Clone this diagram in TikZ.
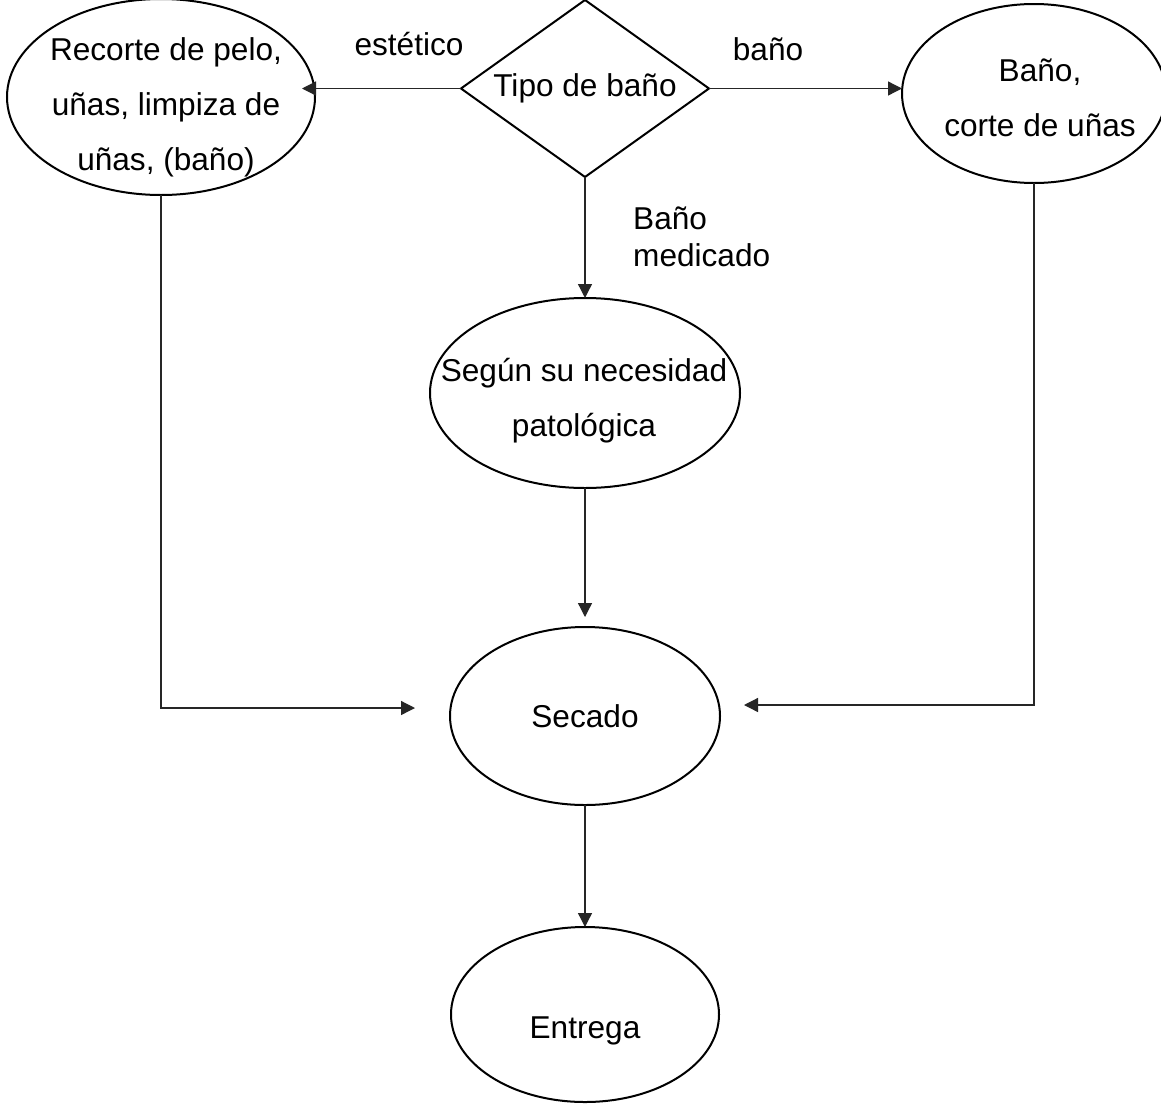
\documentclass[tikz,border=0pt]{standalone}
\usepackage{fontspec}
\setmainfont{Liberation Sans}
\usetikzlibrary{shapes.geometric,arrows.meta,calc}
\begin{document}
\begin{tikzpicture}[x=1pt,y=-1pt,
  ell/.style={ellipse,draw,line width=2pt,inner sep=0pt,outer sep=0pt},
  dia/.style={diamond,draw,line width=2pt,inner sep=0pt,outer sep=0pt,shape aspect=1.4},
  txt/.style={font=\fontsize{31.6}{55}\selectfont,align=center,inner sep=0pt},
  lbl/.style={font=\fontsize{31.6}{37}\selectfont,align=left,inner sep=0pt},
  conn/.style={line width=1.3pt,draw=black!85,-{Triangle[length=14pt,width=14pt]}}]
\useasboundingbox[fill=white] (0,0) rectangle (1161,1103);
% shapes
\node[dia,txt,minimum width=248pt,minimum height=177pt] (D) at (585,88.5) {Tipo de baño};
\node[ell,minimum width=308pt,minimum height=196pt] (L) at (161,97) {};
\node[txt] (Lt) at (166,107) {Recorte de pelo,\\uñas, limpiza de\\uñas, (baño)};
\node[ell,minimum width=264pt,minimum height=179pt] (R) at (1034,93.5) {};
\node[txt] (Rt) at (1040,98) {Baño,\\corte de uñas};
\node[ell,minimum width=310pt,minimum height=190pt] (M) at (585,393) {};
\node[txt] (Mt) at (584,401) {Según su necesidad\\patológica};
\node[ell,txt,minimum width=270pt,minimum height=178pt] (S) at (585,716) {Secado};
\node[ell,minimum width=268pt,minimum height=175pt] (E) at (585,1014.5) {};
\node[txt,anchor=base] (Et) at (585,1038) {Entrega};
% labels
\node[txt,anchor=base] (l1) at (409,55) {estético};
\node[txt,anchor=base] (l2) at (768,60) {baño};
\node[lbl,anchor=north west] (l3) at (633,207) {Baño\\medicado};
% connectors
\draw[conn] (D.west) -- ($(D.west -| L.east)+(-13,0)$);
\draw[conn] (D.east) -- (D.east -| R.west);
\draw[conn] (D.south) -- (M.north);
\draw[conn,shorten >=10pt] (M.south) -- (S.north);
\draw[conn] (S.south) -- (E.north);
\draw[conn] (L.south) |- ($(S.west)+(-35,-8)$);
\draw[conn] (R.south) |- ($(S.east)+(24,-11)$);
\end{tikzpicture}
\end{document}
